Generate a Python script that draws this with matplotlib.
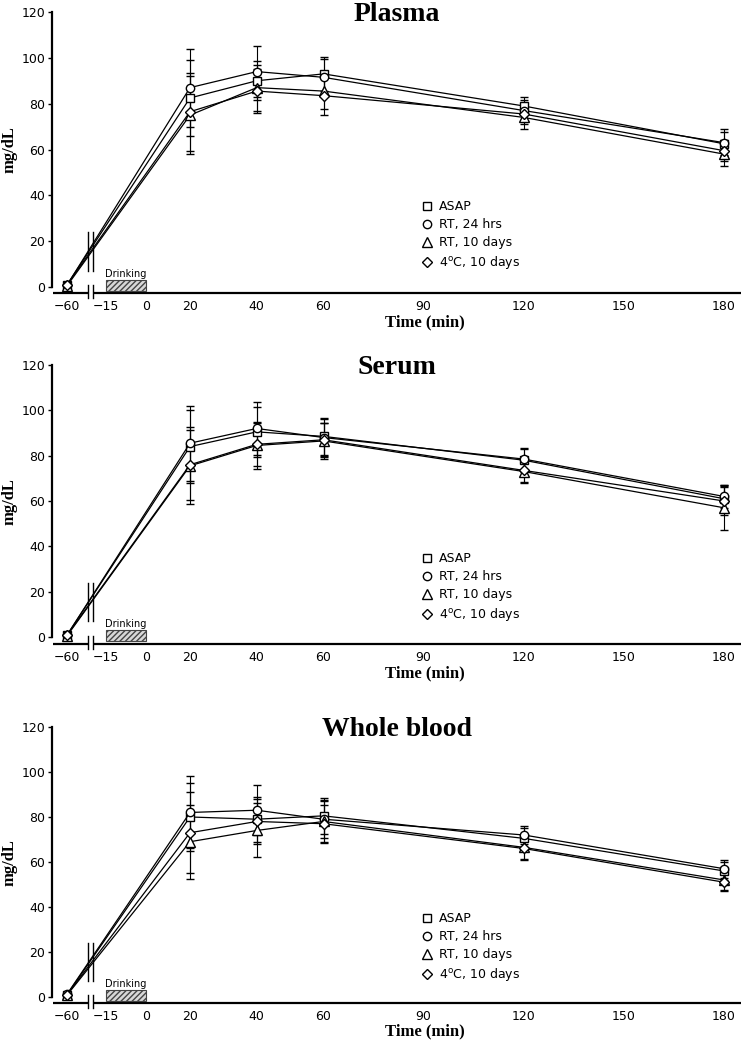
import numpy as np
import matplotlib.pyplot as plt
from matplotlib.lines import Line2D
from matplotlib.patches import Rectangle

# sampling times (min) and axis ticks
times = [-60, 20, 40, 60, 120, 180]
xticks = [-60, -15, 0, 20, 40, 60, 90, 120, 150, 180]
yticks = [0, 20, 40, 60, 80, 100, 120]
drink_start, drink_end = -15, 0

series_names = ['ASAP', 'RT, 24 hrs', 'RT, 10 days', r'4$^\mathregular{o}$C, 10 days']
series_markers = ['s', 'o', '^', 'D']
series_msize = [5.5, 6, 7, 5]

# Plasma
plasma_asap = [1.0, 82.5, 90.0, 93.0, 79.0, 62.5]
plasma_rt24 = [0.8, 87.0, 94.0, 91.5, 77.0, 63.0]
plasma_rt10 = [0.5, 75.0, 87.0, 85.5, 74.0, 58.0]
plasma_c4 = [1.0, 76.5, 85.5, 83.5, 75.5, 59.5]
plasma_asap_sd = [0.8, 16.5, 8.5, 7.5, 4.0, 5.0]
plasma_rt24_sd = [0.6, 17.0, 11.0, 8.0, 4.5, 6.0]
plasma_rt10_sd = [0.6, 17.0, 10.0, 8.0, 5.0, 5.0]
plasma_c4_sd = [0.6, 17.0, 9.5, 8.5, 4.5, 4.5]

# Serum
serum_asap = [0.8, 84.0, 90.5, 88.5, 78.0, 61.0]
serum_rt24 = [0.8, 85.5, 92.0, 88.0, 78.5, 62.0]
serum_rt10 = [0.5, 75.5, 84.5, 86.5, 73.0, 57.0]
serum_c4 = [0.8, 76.0, 85.0, 87.0, 73.5, 60.0]
serum_asap_sd = [0.6, 16.0, 11.0, 8.0, 5.0, 5.5]
serum_rt24_sd = [0.6, 16.5, 11.5, 8.0, 5.0, 5.0]
serum_rt10_sd = [0.5, 17.0, 10.5, 8.0, 5.0, 10.0]
serum_c4_sd = [0.5, 15.5, 9.5, 7.5, 5.0, 6.0]

# Whole blood
blood_asap = [1.0, 80.0, 79.0, 80.5, 70.5, 56.0]
blood_rt24 = [1.2, 82.0, 83.0, 79.0, 72.0, 57.0]
blood_rt10 = [0.8, 69.0, 74.0, 78.0, 66.5, 52.0]
blood_c4 = [1.0, 73.0, 78.0, 77.0, 66.0, 51.0]
blood_asap_sd = [0.6, 15.0, 10.0, 8.0, 4.5, 4.0]
blood_rt24_sd = [0.6, 16.0, 11.0, 8.5, 4.0, 4.0]
blood_rt10_sd = [0.6, 16.5, 12.0, 9.0, 5.0, 4.5]
blood_c4_sd = [0.6, 18.0, 10.0, 8.5, 5.0, 4.0]

panels = [
    ('Plasma', [plasma_asap, plasma_rt24, plasma_rt10, plasma_c4],
     [plasma_asap_sd, plasma_rt24_sd, plasma_rt10_sd, plasma_c4_sd]),
    ('Serum', [serum_asap, serum_rt24, serum_rt10, serum_c4],
     [serum_asap_sd, serum_rt24_sd, serum_rt10_sd, serum_c4_sd]),
    ('Whole blood', [blood_asap, blood_rt24, blood_rt10, blood_c4],
     [blood_asap_sd, blood_rt24_sd, blood_rt10_sd, blood_c4_sd]),
]

# piecewise time axis: compressed before 20 min, broken between -60 and -15
t_knots = [-100, -60, -15, 0, 20, 180, 300]
u_knots = [32.3, 67, 106, 146, 190, 724, 1124.5]

def fwd(t):
    return np.interp(t, t_knots, u_knots)

def inv(u):
    return np.interp(u, u_knots, t_knots)

xlim = (float(inv(52)), float(inv(741)))
brk = inv([88, 93])

serif = 'Liberation Serif'
W, H = 743, 1050
# (axis-line pixel row, 120-level pixel row, data units below zero)
rows = [(293, 12, 2.6), (644, 365, 3.1), (1003, 727, 2.7)]

fig = plt.figure(figsize=(W / 100, H / 100), dpi=100)

for (name, means, sds), (ybase, ytop, ybot) in zip(panels, rows):
    ax = fig.add_axes([52 / W, (H - ybase) / H, 689 / W, (ybase - ytop) / H])
    ax.set_xscale('function', functions=(fwd, inv))
    ax.set_xlim(*xlim)
    ax.set_ylim(-ybot, 120)

    for m, s, mk, ms in zip(means, sds, series_markers, series_msize):
        ax.errorbar(times, m, yerr=s, color='k', lw=0.9, marker=mk, ms=ms,
                    mfc='white', mec='k', mew=1, capsize=3, capthick=0.8,
                    elinewidth=0.8, zorder=3)

    # break marks over the lines and on the axis
    for b in brk:
        ax.plot([b, b], [7, 24], color='k', lw=1, zorder=4)
        ax.plot([b, b], [-0.018, 0.028], color='k', lw=1,
                transform=ax.get_xaxis_transform(), clip_on=False)
    ax.plot([xlim[0] + 1, brk[0]], [0, 0], color='k', lw=1.6,
            transform=ax.get_xaxis_transform(), clip_on=False, solid_capstyle='butt')
    ax.plot([brk[1], xlim[1]], [0, 0], color='k', lw=1.6,
            transform=ax.get_xaxis_transform(), clip_on=False, solid_capstyle='butt')

    # drinking period
    ax.add_patch(Rectangle((drink_start, -1.7), drink_end - drink_start, 4.7,
                           facecolor='#d8d8d8', edgecolor='#444444', hatch='//////',
                           lw=0.8, zorder=2))
    ax.text((drink_start + drink_end) / 2, 3.4, 'Drinking', ha='center',
            va='bottom', fontsize=7)

    for sp in ['top', 'right', 'bottom']:
        ax.spines[sp].set_visible(False)
    ax.spines['left'].set_bounds(0, 120)
    ax.spines['left'].set_linewidth(1.6)

    ax.set_xticks(xticks)
    ax.set_xticklabels([str(t).replace('-', '\u2212') for t in xticks])
    ax.minorticks_off()
    ax.set_yticks(yticks)
    ax.tick_params(axis='x', length=0, pad=5, labelsize=9)
    ax.tick_params(axis='y', length=3, width=1, pad=2, labelsize=9)

    ax.set_title(name, y=0.968, pad=0, fontfamily=serif, fontweight='bold',
                 fontsize=20)
    ax.set_ylabel('mg/dL', fontfamily=serif, fontweight='bold', fontsize=12)
    ax.yaxis.set_label_coords(-0.05, 0.51)
    ax.set_xlabel('Time (min)', fontfamily=serif, fontweight='bold', fontsize=12)
    ax.xaxis.set_label_coords(0.541, -0.075)

    handles = [Line2D([], [], ls='none', marker=mk, ms=ms, mfc='white',
                      mec='k', mew=1)
               for mk, ms in zip(series_markers, series_msize)]
    ax.legend(handles, series_names, loc='upper left',
              bbox_to_anchor=(0.535, 0.33), frameon=False, borderpad=0,
              borderaxespad=0, handlelength=1, handletextpad=0.5,
              labelspacing=0.4, fontsize=9)

fig.savefig('out.png', dpi=100)
